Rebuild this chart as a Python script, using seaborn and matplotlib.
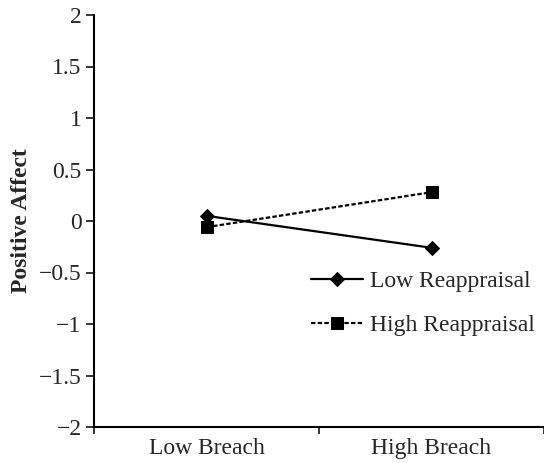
import matplotlib
matplotlib.use("Agg")
import matplotlib.pyplot as plt
import seaborn as sns
import pandas as pd

categories = ["Low Breach", "High Breach"]
low_reappraisal = [0.05, -0.26]
high_reappraisal = [-0.06, 0.28]
series_names = ["Low Reappraisal", "High Reappraisal"]
y_ticks = [-2, -1.5, -1, -0.5, 0, 0.5, 1, 1.5, 2]

df = pd.DataFrame({
    "x": list(range(len(categories))) * 2,
    "value": low_reappraisal + high_reappraisal,
    "series": [series_names[0]] * 2 + [series_names[1]] * 2,
})

sns.set_style("ticks")
plt.rcParams["font.family"] = ["Liberation Serif", "DejaVu Serif"]
plt.rcParams["axes.unicode_minus"] = True

FS = 17

fig = plt.figure(figsize=(5.44, 4.63), dpi=100)
ax = fig.add_axes([94 / 544, 36 / 463, 1 - 94 / 544, (427 - 15) / 463])

sns.lineplot(
    data=df, x="x", y="value", style="series", hue="series",
    palette=["black", "black"],
    markers={series_names[0]: "D", series_names[1]: "s"},
    dashes={series_names[0]: "", series_names[1]: (2, 1)},
    markersize=9, linewidth=1.6, markeredgecolor="black",
    ax=ax, legend=True,
)
for line in ax.lines:
    if line.get_marker() == "D":
        line.set_markersize(7.5)

ax.set_xlim(-0.5, 1.5)
ax.set_ylim(-2, 2)
ax.set_yticks(y_ticks)
ax.set_yticklabels([("%g" % v).replace("-", "\u2212") for v in y_ticks])
ax.set_xticks([-0.5, 0.5, 1.5])
ax.set_xticklabels([])
ax.set_xticks([0, 1], minor=True)
ax.set_xticklabels(categories, minor=True)
ax.tick_params(axis="x", which="minor", length=0, labelsize=FS, pad=8)
ax.tick_params(axis="x", which="major", length=5, width=1.3, direction="out")
ax.tick_params(axis="y", length=6, width=1.3, direction="out", labelsize=FS, pad=3)
ax.set_xlabel("")
ax.set_ylabel("Positive Affect", fontsize=FS, fontweight="bold", labelpad=5)

for s in ["top", "right"]:
    ax.spines[s].set_visible(False)
for s in ["left", "bottom"]:
    ax.spines[s].set_linewidth(1.5)
    ax.spines[s].set_color("black")

handles, labels = ax.get_legend_handles_labels()
for h in handles:
    if h.get_marker() == "D":
        h.set_markersize(7.5)
leg = ax.legend(handles, labels, loc="upper left", bbox_to_anchor=(299 / 544, 1 - 259 / 463),
                bbox_transform=fig.transFigure, frameon=False, fontsize=FS,
                handlelength=2.2, handletextpad=0.3, labelspacing=0.95, borderpad=0)

fig.savefig("out.png", dpi=100)
